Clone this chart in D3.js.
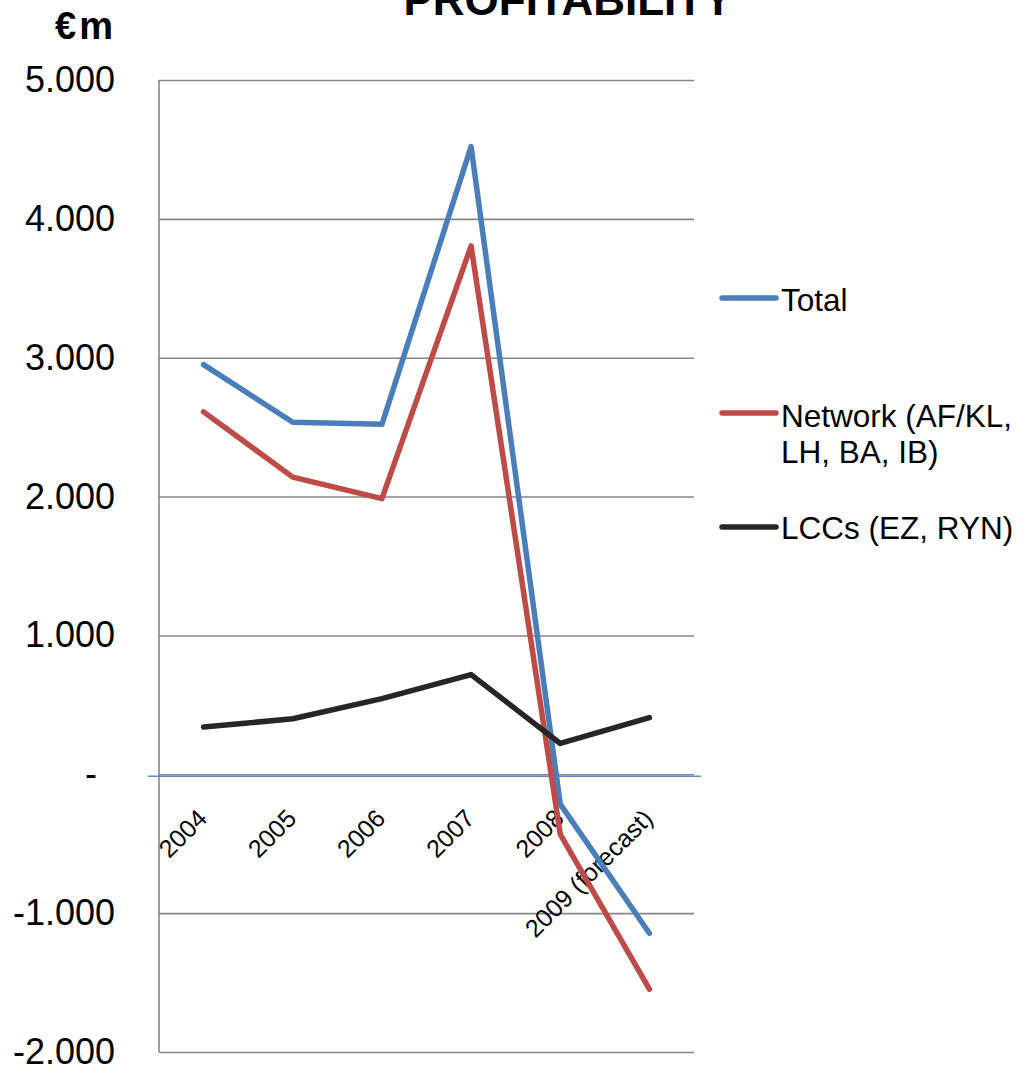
<!DOCTYPE html>
<html>
<head>
<meta charset="utf-8">
<script src="https://cdn.jsdelivr.net/npm/d3@7"></script>
<style>
  html, body { margin: 0; padding: 0; background: #fff; }
  svg { display: block; font-family: "Liberation Sans", Arial, sans-serif; }
</style>
</head>
<body>
<svg id="chart" width="1017" height="1065"></svg>
<script>
// ---- data ----
const categories = ["2004", "2005", "2006", "2007", "2008", "2009 (forecast)"];
const totalValues = [2950, 2535, 2520, 4520, -215, -1145];
const networkValues = [2610, 2140, 1985, 3805, -432, -1548];
const lccValues = [340, 400, 545, 718, 222, 408];
const seriesNames = ["Total", "Network (AF/KL, LH, BA, IB)", "LCCs (EZ, RYN)"];
const yTickValues = [-2000, -1000, 0, 1000, 2000, 3000, 4000, 5000];
const yTickLabels = ["-2.000", "-1.000", "-", "1.000", "2.000", "3.000", "4.000", "5.000"];
const titleText = "PROFITABILITY";
const unitText = "€m";

// ---- styling / layout ----
const colors = ["#4A7EBB", "#BE4B48", "#262626"];
const plot = { left: 159, right: 694, top: 80, bottom: 1052 };

const svg = d3.select("#chart");

const x = d3.scaleBand().domain(categories).range([plot.left, plot.right]);
const cx = c => x(c) + x.bandwidth() / 2;
const y = d3.scaleLinear().domain([-2000, 5000]).range([plot.bottom, plot.top]);

// gridlines + y tick labels
const yAxis = d3.axisLeft(y)
  .tickValues(yTickValues)
  .tickSize(-(plot.right - plot.left))
  .tickPadding(44)
  .tickFormat((d, i) => yTickLabels[i] === "-" ? "-\u2002" : yTickLabels[i]);

const gy = svg.append("g")
  .attr("transform", `translate(${plot.left},0)`)
  .call(yAxis);
gy.select(".domain").remove();
gy.selectAll(".tick line").attr("stroke", "#868686").attr("stroke-width", 1.6);
gy.selectAll(".tick text")
  .attr("font-size", 36)
  .attr("fill", "#000")
  .attr("font-family", "'Liberation Sans', Arial, sans-serif");

// vertical axis line
svg.append("line")
  .attr("x1", plot.left).attr("x2", plot.left)
  .attr("y1", y(5000)).attr("y2", y(-2000))
  .attr("stroke", "#868686").attr("stroke-width", 1.6);

// horizontal category axis (blue) at zero
svg.append("line")
  .attr("x1", 148).attr("x2", 701)
  .attr("y1", y(0) + 2).attr("y2", y(0) + 2)
  .attr("stroke", "#5B8BC9").attr("stroke-width", 1.5);

// x labels
const gx = svg.append("g");
gx.selectAll("text").data(categories).enter().append("text")
  .attr("transform", d => `translate(${cx(d) + 5},820) rotate(-45)`)
  .attr("text-anchor", "end")
  .attr("font-size", 25)
  .attr("fill", "#000")
  .text(d => d);

// lines
const allSeries = [totalValues, networkValues, lccValues];
const line = d3.line()
  .x((d, i) => cx(categories[i]))
  .y(d => y(d));

allSeries.forEach((vals, k) => {
  svg.append("path")
    .datum(vals)
    .attr("d", line)
    .attr("fill", "none")
    .attr("stroke", colors[k])
    .attr("stroke-width", 5.5)
    .attr("stroke-linejoin", "round")
    .attr("stroke-linecap", "round");
});

// legend
const legendItems = [
  { lineY: 298, lines: ["Total"], baseY: 311 },
  { lineY: 413, lines: ["Network (AF/KL,", "LH, BA, IB)"], baseY: 427 },
  { lineY: 527, lines: ["LCCs (EZ, RYN)"], baseY: 539 }
];
legendItems.forEach((it, k) => {
  svg.append("line")
    .attr("x1", 722).attr("x2", 776)
    .attr("y1", it.lineY).attr("y2", it.lineY)
    .attr("stroke", colors[k]).attr("stroke-width", 5.5)
    .attr("stroke-linecap", "round");
  const t = svg.append("text")
    .attr("x", 781).attr("y", it.baseY)
    .attr("font-size", 31.5).attr("fill", "#000");
  it.lines.forEach((ln, j) => {
    t.append("tspan").attr("x", 781).attr("dy", j === 0 ? 0 : 36).text(ln);
  });
});

// title
svg.append("text")
  .attr("x", 568).attr("y", 15)
  .attr("text-anchor", "middle")
  .attr("font-size", 44).attr("font-weight", "bold")
  .attr("fill", "#000")
  .text(titleText);

// unit label
svg.append("text")
  .attr("x", 55).attr("y", 39)
  .attr("font-size", 38).attr("font-weight", "bold")
  .attr("letter-spacing", 3)
  .attr("fill", "#000")
  .text(unitText);
</script>
</body>
</html>
